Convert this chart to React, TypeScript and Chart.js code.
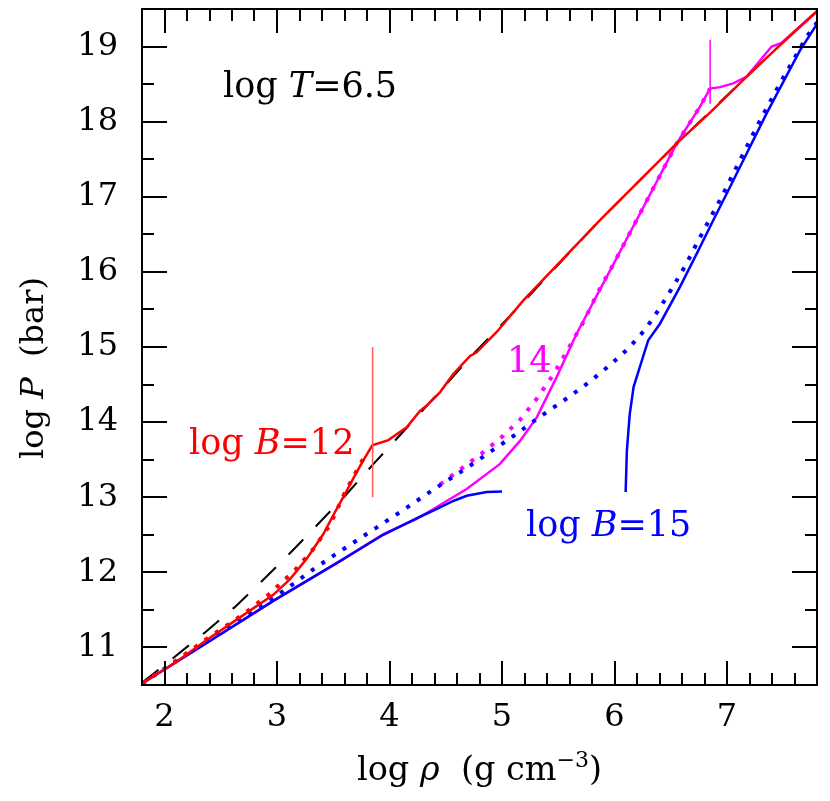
import { useEffect, useRef } from "react";
import { Chart, registerables } from "chart.js";

Chart.register(...registerables);

// ---- tick labels ----
const X_TICKS = [2, 3, 4, 5, 6, 7];
const Y_TICKS = [11, 12, 13, 14, 15, 16, 17, 18, 19];

// ---- non-magnetic (black dashed) ----
const NONMAG_X = [1.8, 2.078, 2.36, 2.627, 2.878, 3.145, 3.382, 3.6, 3.856, 4.2, 4.478, 4.716, 5.19, 5.871, 6.553, 6.849, 7.175, 7.486, 7.8];
const NONMAG_Y = [10.53, 10.86, 11.2, 11.54, 11.9, 12.3, 12.67, 13.01, 13.44, 14.0, 14.46, 14.86, 15.6, 16.69, 17.71, 18.13, 18.6, 19.04, 19.47];

// ---- log B = 12 (red) ----
const B12_X = [1.8, 2.078, 2.375, 2.671, 2.967, 3.116, 3.264, 3.412, 3.5, 3.6, 3.7, 3.767, 3.847, 3.99, 4.153, 4.271, 4.331, 4.45, 4.567, 4.716, 4.775, 4.953, 5.19, 5.871, 6.553, 6.849, 7.175, 7.486, 7.8];
const B12_Y = [10.52, 10.78, 11.1, 11.4, 11.7, 11.91, 12.18, 12.51, 12.76, 13.03, 13.31, 13.49, 13.69, 13.76, 13.93, 14.15, 14.22, 14.4, 14.64, 14.88, 14.93, 15.2, 15.62, 16.69, 17.71, 18.12, 18.6, 19.04, 19.47];
const B12_DOT_X = [1.8, 2.1, 2.4, 2.7, 2.923, 3.16, 3.323, 3.471, 3.6, 3.7, 3.8];
const B12_DOT_Y = [10.52, 10.82, 11.14, 11.44, 11.7, 12.03, 12.31, 12.63, 13.05, 13.33, 13.6];
const B12_MARK_X = [3.85, 3.85];
const B12_MARK_Y = [13.0, 15.0];

// ---- log B = 14 (magenta) ----
const B14_X = [1.8, 2.375, 2.967, 3.56, 3.945, 4.242, 4.686, 4.98, 5.16, 5.308, 5.486, 5.664, 6.0, 6.375, 6.553, 6.76, 6.849, 6.938, 7.056, 7.175, 7.397, 7.486, 7.8];
const B14_Y = [10.52, 11.06, 11.62, 12.15, 12.51, 12.71, 13.11, 13.44, 13.75, 14.06, 14.6, 15.18, 16.13, 17.2, 17.71, 18.2, 18.44, 18.46, 18.51, 18.6, 19.0, 19.05, 19.47];
const B14_DOT_X = [4.45, 4.656, 4.834, 4.997, 5.16, 5.308, 5.45, 5.564, 5.723, 5.85, 6.0, 6.375, 6.553, 6.76, 6.849];
const B14_DOT_Y = [13.17, 13.4, 13.6, 13.8, 14.03, 14.31, 14.62, 14.91, 15.33, 15.72, 16.13, 17.2, 17.71, 18.2, 18.44];
const B14_MARK_X = [6.85, 6.85];
const B14_MARK_Y = [18.24, 19.09];

// ---- log B = 15 (blue) ----
const B15_LOW_X = [1.8, 2.375, 2.967, 3.56, 3.945, 4.271, 4.389, 4.567, 4.686, 4.864, 5.0];
const B15_LOW_Y = [10.52, 11.06, 11.62, 12.15, 12.5, 12.74, 12.82, 12.95, 13.02, 13.07, 13.075];
const B15_HIGH_X = [6.099, 6.11, 6.135, 6.17, 6.3, 6.404, 6.582, 6.73, 6.879, 7.027, 7.352, 7.649, 7.8];
const B15_HIGH_Y = [13.07, 13.62, 14.1, 14.47, 15.09, 15.31, 15.8, 16.24, 16.69, 17.13, 18.11, 18.95, 19.3];
const B15_DOT_X = [1.8, 2.197, 2.478, 2.671, 2.864, 3.056, 3.323, 3.5, 3.797, 4.093, 4.389, 4.686, 4.98, 5.145, 5.308, 5.59, 5.782, 5.96, 6.123, 6.271, 6.404, 6.523, 6.636, 6.739, 6.849, 6.953, 7.056, 7.16, 7.264, 7.367, 7.471, 7.59, 7.708, 7.8];
const B15_DOT_Y = [10.52, 10.91, 11.18, 11.38, 11.55, 11.75, 12.04, 12.22, 12.51, 12.8, 13.1, 13.39, 13.69, 13.86, 14.04, 14.33, 14.54, 14.76, 14.98, 15.23, 15.52, 15.81, 16.1, 16.4, 16.71, 17.0, 17.31, 17.62, 17.93, 18.22, 18.51, 18.82, 19.13, 19.32];

const RED = "#ff0000";
const MAGENTA = "#ff00ff";
const BLUE = "#0000ff";
const FONT = "DejaVu Serif";

type Part = { t: string; italic?: boolean; size?: number; dy?: number };
type Label = { x: number; y: number; color: string; parts: Part[] };

const LABELS: Label[] = [
  { x: 2.52, y: 18.33, color: "#000", parts: [{ t: "log " }, { t: "T", italic: true }, { t: "=6.5" }] },
  { x: 2.218, y: 13.58, color: RED, parts: [{ t: "log " }, { t: "B", italic: true }, { t: "=12" }] },
  { x: 5.044, y: 14.673, color: MAGENTA, parts: [{ t: "14" }] },
  { x: 5.213, y: 12.487, color: BLUE, parts: [{ t: "log " }, { t: "B", italic: true }, { t: "=15" }] },
];

const zip = (xs: number[], ys: number[]) => xs.map((x, i) => ({ x, y: ys[i] }));

function fontOf(p: Part, base: number) {
  return `${p.italic ? "italic " : ""}${p.size ?? base}px "${FONT}"`;
}
function measure(ctx: CanvasRenderingContext2D, parts: Part[], base: number) {
  let w = 0;
  for (const p of parts) {
    ctx.font = fontOf(p, base);
    w += ctx.measureText(p.t).width;
  }
  return w;
}
function drawParts(ctx: CanvasRenderingContext2D, parts: Part[], x: number, y: number, base: number) {
  let cx = x;
  ctx.textBaseline = "alphabetic";
  ctx.textAlign = "left";
  for (const p of parts) {
    ctx.font = fontOf(p, base);
    ctx.fillText(p.t, cx, y + (p.dy ?? 0));
    cx += ctx.measureText(p.t).width;
  }
}

const framePlugin = {
  id: "frameTicks",
  afterDatasetsDraw(chart: any) {
    const { ctx, chartArea: a, scales } = chart;
    const xs = scales.x;
    const ys = scales.y;
    ctx.save();
    ctx.strokeStyle = "#000";
    ctx.lineWidth = 2;
    ctx.lineCap = "butt";
    ctx.beginPath();
    for (let i = 9; i <= 39; i++) {
      const v = i / 5;
      const major = i % 5 === 0;
      const len = major ? 24 : 12;
      const px = Math.round(xs.getPixelForValue(v));
      ctx.moveTo(px, a.bottom);
      ctx.lineTo(px, a.bottom - len);
      ctx.moveTo(px, a.top);
      ctx.lineTo(px, a.top + len);
    }
    for (let i = 21; i <= 39; i++) {
      const v = i / 2;
      const major = i % 2 === 0;
      const len = major ? 25 : 12;
      const py = Math.round(ys.getPixelForValue(v));
      ctx.moveTo(a.left, py);
      ctx.lineTo(a.left + len, py);
      ctx.moveTo(a.right, py);
      ctx.lineTo(a.right - len, py);
    }
    ctx.stroke();
    ctx.strokeRect(a.left, a.top, a.right - a.left, a.bottom - a.top);

    // annotations
    for (const L of LABELS) {
      ctx.fillStyle = L.color;
      drawParts(ctx, L.parts, xs.getPixelForValue(L.x), ys.getPixelForValue(L.y), 35);
    }

    // axis titles
    ctx.fillStyle = "#000";
    const xt: Part[] = [
      { t: "log " },
      { t: "ρ", italic: true },
      { t: "  (g cm" },
      { t: "−3", size: 22, dy: -13 },
      { t: ")" },
    ];
    const xw = measure(ctx, xt, 33.5);
    drawParts(ctx, xt, (a.left + a.right) / 2 - xw / 2, 780, 33.5);

    const yt: Part[] = [{ t: "log " }, { t: "P", italic: true }, { t: "  (bar)" }];
    const yw = measure(ctx, yt, 32);
    ctx.translate(43, 368);
    ctx.rotate(-Math.PI / 2);
    drawParts(ctx, yt, -yw / 2, 0, 32);
    ctx.restore();
  },
};

export default function App() {
  const ref = useRef<HTMLCanvasElement | null>(null);

  useEffect(() => {
    if (!ref.current) return;
    const solid = (data: any, color: string, w = 2.5) => ({
      data,
      borderColor: color,
      borderWidth: w,
      showLine: true,
      pointRadius: 0,
      fill: false,
      tension: 0,
    });
    const dotted = (data: any, color: string) => ({
      ...solid(data, color, 4),
      borderDash: [4, 8.7],
    });
    const chart = new Chart(ref.current, {
      type: "scatter",
      data: {
        datasets: [
          solid(zip(B12_MARK_X, B12_MARK_Y), "#ff5a5a", 1.5),
          solid(zip(B14_MARK_X, B14_MARK_Y), MAGENTA, 1.5),
          dotted(zip(B12_DOT_X, B12_DOT_Y), RED),
          solid(zip(B12_X, B12_Y), RED),
          solid(zip(B15_LOW_X, B15_LOW_Y), BLUE),
          solid(zip(B15_HIGH_X, B15_HIGH_Y), BLUE),
          dotted(zip(B15_DOT_X, B15_DOT_Y), BLUE),
          solid(zip(B14_X, B14_Y), MAGENTA),
          dotted(zip(B14_DOT_X, B14_DOT_Y), MAGENTA),
          { ...solid(zip(NONMAG_X, NONMAG_Y), "#000", 2), borderDash: [21, 18] },
        ],
      },
      options: {
        animation: false,
        responsive: false,
        devicePixelRatio: 1,
        layout: { padding: { top: 9, right: 13, left: 0, bottom: 0 } },
        plugins: { legend: { display: false }, tooltip: { enabled: false } },
        scales: {
          x: {
            type: "linear",
            min: 1.8,
            max: 7.8,
            grid: { display: false, drawTicks: false },
            border: { display: false },
            ticks: { font: { family: FONT, size: 32 }, color: "#000", padding: 13, maxRotation: 0, autoSkip: false },
            afterBuildTicks: (s: any) => {
              s.ticks = X_TICKS.map((v) => ({ value: v }));
            },
            afterFit: (s: any) => {
              s.height = 116;
              s.paddingLeft = 0;
              s.paddingRight = 0;
            },
          },
          y: {
            type: "linear",
            min: 10.5,
            max: 19.5,
            grid: { display: false, drawTicks: false },
            border: { display: false },
            ticks: { font: { family: FONT, size: 32 }, color: "#000", padding: 24, autoSkip: false },
            afterBuildTicks: (s: any) => {
              s.ticks = Y_TICKS.map((v) => ({ value: v }));
            },
            afterFit: (s: any) => {
              s.width = 142;
              s.paddingTop = 0;
              s.paddingBottom = 0;
            },
          },
        },
      } as any,
      plugins: [framePlugin],
    });
    return () => chart.destroy();
  }, []);

  return (
    <div style={{ position: "absolute", left: 0, top: 0, width: 830, height: 801, background: "#fff" }}>
      <canvas ref={ref} width={830} height={801} style={{ width: 830, height: 801, display: "block" }} />
    </div>
  );
}
